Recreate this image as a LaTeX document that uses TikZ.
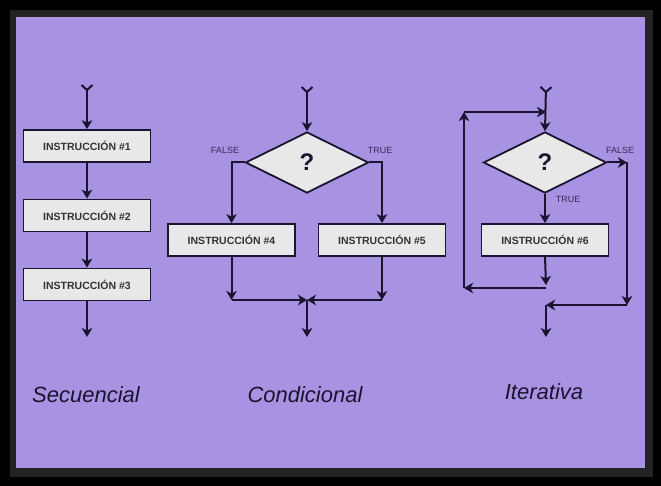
\documentclass[tikz,border=0pt]{standalone}
\usepackage{fontspec}
\setmainfont{Liberation Sans}
\usetikzlibrary{arrows.meta,shapes.geometric}
\definecolor{bgpurple}{HTML}{A892E2}
\definecolor{framegray}{HTML}{232323}
\definecolor{ink}{HTML}{1A1430}
\definecolor{boxfill}{HTML}{E8E8E8}
\definecolor{boxtext}{HTML}{333333}
\definecolor{tagtext}{HTML}{352C58}

\begin{document}
\begin{tikzpicture}[x=1pt, y=-1pt,
  instr/.style={draw=ink, line width=1.8pt, fill=boxfill, minimum width=127pt, minimum height=32pt, inner sep=0pt, font=\fontsize{10.5}{12}\selectfont\bfseries, text=boxtext},
  cond/.style={diamond, draw=ink, line width=1.8pt, fill=boxfill, minimum width=123pt, minimum height=61pt, inner sep=0pt, font=\fontsize{24}{26}\selectfont, text=ink},
  flow/.style={-{Stealth[length=9pt, width=10.5pt, inset=2.5pt]}, draw=ink, line width=2pt},
  entry/.style={{Straight Barb[reversed, length=5pt, width=11pt, line width=2pt]}-{Stealth[length=9pt, width=10.5pt, inset=2.5pt]}, draw=ink, line width=2pt},
  tag/.style={font=\fontsize{9}{10}\selectfont, text=tagtext},
  heading/.style={font=\fontsize{22}{24}\selectfont\itshape, text=ink}
]
% Frame and background
\fill[black] (0,0) rectangle (661,486);
\fill[framegray] (10,10) rectangle (653,477);
\fill[bgpurple] (16,17) rectangle (645,468);

% Left column: Secuencial
\coordinate (s-in) at (87,84);
\node[instr] (s-one) at (87,146) {INSTRUCCIÓN \#1};
\node[instr] (s-two) at (87,215.5) {INSTRUCCIÓN \#2};
\node[instr] (s-three) at (87,284.5) {INSTRUCCIÓN \#3};
\coordinate (s-out) at (87,337);
\draw[entry] (s-in) -- (s-one.north);
\draw[flow] (s-one.south) -- (s-two.north);
\draw[flow] (s-two.south) -- (s-three.north);
\draw[flow] (s-three.south) -- (s-out);
\node[heading] (s-name) at (86,395) {Secuencial};

% Middle column: Condicional
\coordinate (c-in) at (307,86);
\node[cond] (c-q) at (307,162.5) {\textbf{?}};
\node[instr] (c-four) at (231.5,240) {INSTRUCCIÓN \#4};
\node[instr] (c-five) at (382,240) {INSTRUCCIÓN \#5};
\coordinate (c-l) at (231.5,300);
\coordinate (c-r) at (382,300);
\coordinate (c-m) at (307,300);
\coordinate (c-out) at (307,337);
\draw[entry] (c-in) -- (c-q.north);
\draw[flow] (c-q.west) -| (c-four.north);
\draw[flow] (c-q.east) -| (c-five.north);
\node[tag] (c-false) at (225,150) {FALSE};
\node[tag] (c-true) at (380,150) {TRUE};
\draw[flow] (c-four.south) -- (c-l);
\draw[flow] (c-five.south) -- (c-r);
\draw[flow] (c-l) -- (c-m);
\draw[flow] (c-r) -- (c-m);
\draw[flow] (c-m) -- (c-out);
\node[heading] (c-name) at (305,395) {Condicional};

% Right column: Iterativa
\coordinate (i-in) at (546,86);
\coordinate (i-t) at (546,112);
\coordinate (i-tl) at (464,112);
\node[cond] (i-q) at (545,162.5) {\textbf{?}};
\node[instr] (i-six) at (545,240) {INSTRUCCIÓN \#6};
\coordinate (i-b) at (546,285);
\coordinate (i-bl) at (464,288);
\coordinate (i-f) at (627,162.5);
\coordinate (i-fd) at (627,305);
\coordinate (i-j) at (546,305);
\coordinate (i-out) at (546,337);
\draw[entry] (i-in) -- (i-q.north);
\draw[flow] (i-q.east) -- (i-f);
\draw[flow] (i-f) -- (i-fd);
\draw[flow] (i-fd) -- (i-j);
\draw[flow] (i-j) -- (i-out);
\draw[flow] (i-q.south) -- (i-six.north);
\node[tag] (i-false) at (620,150) {FALSE};
\node[tag] (i-true) at (568,199) {TRUE};
\draw[flow] (i-six.south) -- (i-b);
\draw[flow] (i-b |- i-bl) -- (i-bl);
\draw[flow] (i-bl) -- (i-tl);
\draw[flow] (i-tl) -- (i-t);
\node[heading] (i-name) at (544,392) {Iterativa};
\end{tikzpicture}
\end{document}
